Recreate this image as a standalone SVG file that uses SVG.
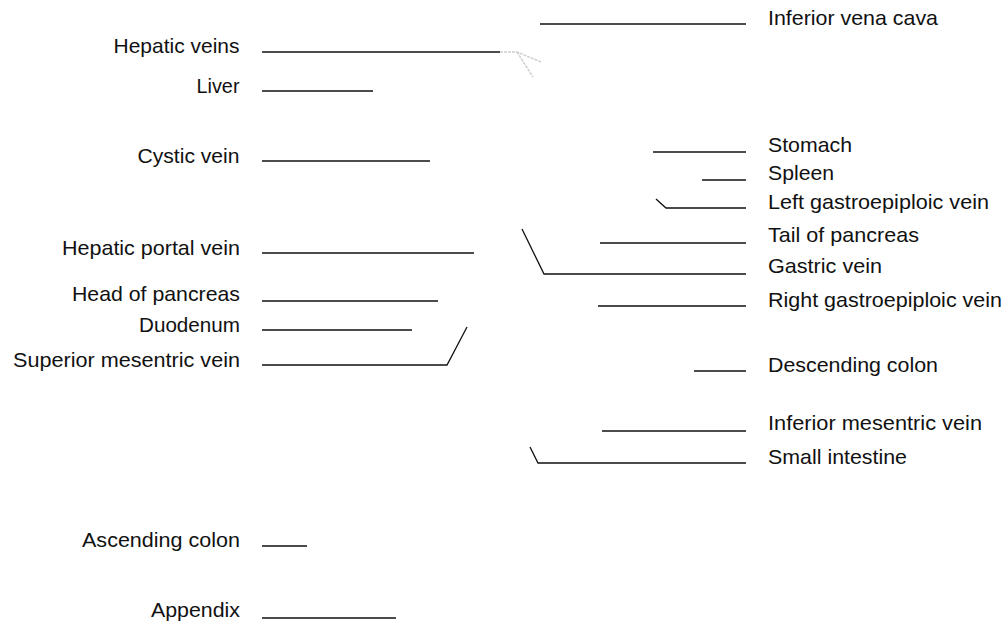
<svg xmlns="http://www.w3.org/2000/svg" width="1008" height="624" viewBox="0 0 1008 624">
<style>
text{font-family:"Liberation Sans","Roboto",sans-serif;font-size:21px;fill:#111}
.l text{text-anchor:end}
.ln{stroke:#111;stroke-width:1.3;fill:none}
.gr{stroke:#cfcfcf;stroke-width:1.5;fill:none;stroke-dasharray:3 1}
</style>
<rect width="1008" height="624" fill="#fff"/>
<g id="connectors">
<path class="ln" d="M262 52H500"/>
<path class="gr" d="M500 52H517L541 62M517 52L533 77"/>
<path class="ln" d="M262 91H373"/>
<path class="ln" d="M262 161H430"/>
<path class="ln" d="M262 253H474"/>
<path class="ln" d="M262 301H438"/>
<path class="ln" d="M262 330H412"/>
<path class="ln" d="M262 365H447L467 327"/>
<path class="ln" d="M262 546H307"/>
<path class="ln" d="M262 618H396"/>
<path class="ln" d="M540 24H746"/>
<path class="ln" d="M653 152H746"/>
<path class="ln" d="M702 180H746"/>
<path class="ln" d="M656 199L666 208H746"/>
<path class="ln" d="M600 243H746"/>
<path class="ln" d="M522 229L544 274H746"/>
<path class="ln" d="M598 306H746"/>
<path class="ln" d="M694 371H746"/>
<path class="ln" d="M602 431H746"/>
<path class="ln" d="M530 447L538 463H746"/>
</g>
<g class="l">
<g id="hepatic-veins"><text x="239.5" y="52.5" textLength="126" lengthAdjust="spacingAndGlyphs">Hepatic veins</text></g>
<g id="liver"><text x="239.5" y="92.5" textLength="43" lengthAdjust="spacingAndGlyphs">Liver</text></g>
<g id="cystic-vein"><text x="239.5" y="163" textLength="102" lengthAdjust="spacingAndGlyphs">Cystic vein</text></g>
<g id="hepatic-portal-vein"><text x="240" y="255" textLength="178" lengthAdjust="spacingAndGlyphs">Hepatic portal vein</text></g>
<g id="head-of-pancreas"><text x="240" y="301" textLength="168" lengthAdjust="spacingAndGlyphs">Head of pancreas</text></g>
<g id="duodenum"><text x="240" y="332" textLength="101" lengthAdjust="spacingAndGlyphs">Duodenum</text></g>
<g id="superior-mesentric-vein"><text x="240" y="367" textLength="227" lengthAdjust="spacingAndGlyphs">Superior mesentric vein</text></g>
<g id="ascending-colon"><text x="240" y="547" textLength="158" lengthAdjust="spacingAndGlyphs">Ascending colon</text></g>
<g id="appendix"><text x="240" y="617" textLength="89" lengthAdjust="spacingAndGlyphs">Appendix</text></g>
</g>
<g class="r">
<g id="inferior-vena-cava"><text x="768" y="25" textLength="170" lengthAdjust="spacingAndGlyphs">Inferior vena cava</text></g>
<g id="stomach"><text x="768" y="152" textLength="84" lengthAdjust="spacingAndGlyphs">Stomach</text></g>
<g id="spleen"><text x="768" y="180" textLength="66" lengthAdjust="spacingAndGlyphs">Spleen</text></g>
<g id="left-gastroepiploic-vein"><text x="768" y="209" textLength="221" lengthAdjust="spacingAndGlyphs">Left gastroepiploic vein</text></g>
<g id="tail-of-pancreas"><text x="768" y="242" textLength="151" lengthAdjust="spacingAndGlyphs">Tail of pancreas</text></g>
<g id="gastric-vein"><text x="768" y="273" textLength="114" lengthAdjust="spacingAndGlyphs">Gastric vein</text></g>
<g id="right-gastroepiploic-vein"><text x="768" y="307" textLength="234" lengthAdjust="spacingAndGlyphs">Right gastroepiploic vein</text></g>
<g id="descending-colon"><text x="768" y="372" textLength="170" lengthAdjust="spacingAndGlyphs">Descending colon</text></g>
<g id="inferior-mesentric-vein"><text x="768" y="430" textLength="214" lengthAdjust="spacingAndGlyphs">Inferior mesentric vein</text></g>
<g id="small-intestine"><text x="768" y="464" textLength="139" lengthAdjust="spacingAndGlyphs">Small intestine</text></g>
</g>
</svg>
